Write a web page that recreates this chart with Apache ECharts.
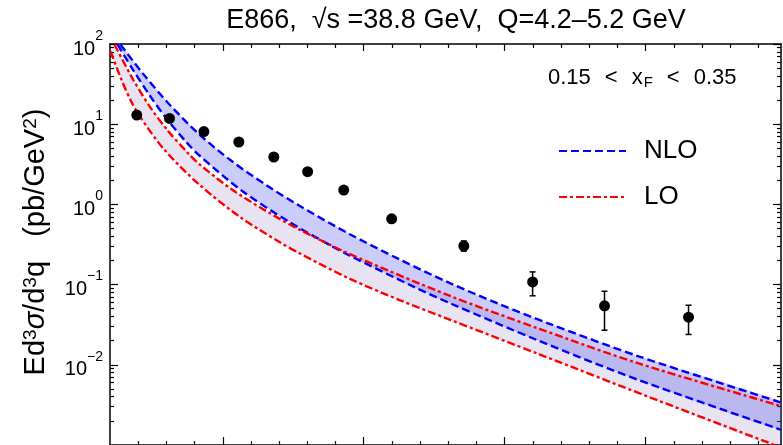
<!DOCTYPE html>
<html>
<head>
<meta charset="utf-8">
<script src="https://cdn.jsdelivr.net/npm/echarts@6/dist/echarts.min.js"></script>
<style>
html, body { margin: 0; padding: 0; background: #fff; }
#main { width: 783px; height: 445px; }
</style>
</head>
<body>
<div id="main"></div>
<script>
// E866 data points (x, cross section) and error bar ends
var ptX = [0.195, 0.311, 0.433, 0.557, 0.681, 0.801, 0.929, 1.099, 1.355, 1.599, 1.854, 2.152];
var ptY = [13.0, 11.8, 8.1, 6.0, 3.9, 2.56, 1.51, 0.66, 0.303, 0.108, 0.0543, 0.0393];
var errLo = [13.0, 11.8, 8.1, 6.0, 3.9, 2.56, 1.51, 0.66, 0.262, 0.0725, 0.0270, 0.0239];
var errHi = [13.0, 11.8, 8.1, 6.0, 3.9, 2.56, 1.51, 0.66, 0.350, 0.144, 0.0826, 0.0553];

// NLO band (blue dashed)
var nloUpX = [0.137, 0.215, 0.311, 0.417, 0.534, 0.655, 0.772, 0.949, 1.127, 1.304, 1.482, 1.659, 1.978, 2.478];
var nloUpY = [98.6, 43.5, 17.6, 7.45, 3.42, 1.73, 0.961, 0.428, 0.206, 0.105, 0.0569, 0.0324, 0.01265, 0.00341];
var nloLoX = [0.127, 0.180, 0.240, 0.300, 0.371, 0.417, 0.570, 0.737, 0.878, 0.949, 1.187, 1.304, 1.623, 1.978, 2.478];
var nloLoY = [98.6, 48.6, 23.1, 11.8, 5.96, 4.07, 1.46, 0.601, 0.313, 0.231, 0.0906, 0.0590, 0.0198, 0.00640, 0.00156];

// LO band (red dash-dot)
var loUpX = [0.116, 0.180, 0.240, 0.300, 0.382, 0.417, 0.534, 0.655, 0.772, 0.949, 1.304, 1.623, 1.978, 2.478];
var loUpY = [98.6, 37.1, 16.8, 8.72, 4.16, 3.17, 1.52, 0.823, 0.485, 0.242, 0.0728, 0.0281, 0.01033, 0.00308];
var loLoX = [0.102, 0.141, 0.176, 0.205, 0.293, 0.417, 0.559, 0.701, 0.772, 0.949, 1.127, 1.304, 1.623, 2.013, 2.485];
var loLoY = [80.7, 35.6, 19.0, 12.6, 4.79, 1.76, 0.704, 0.339, 0.246, 0.1187, 0.0642, 0.0367, 0.0135, 0.00395, 0.000918];

// axis ticks
var xMajor = [0.5, 1.0, 1.5, 2.0];
var xMinor = [0.2, 0.3, 0.4, 0.6, 0.7, 0.8, 0.9, 1.1, 1.2, 1.3, 1.4, 1.6, 1.7, 1.8, 1.9, 2.1, 2.2, 2.3, 2.4];
var yMajor = [0.001, 0.01, 0.1, 1, 10, 100];
var yLabels = [0.01, 0.1, 1, 10, 100];
var yMinor = [];
[0.001, 0.01, 0.1, 1, 10].forEach(function (d) {
    [2, 3, 4, 5, 6, 7, 8, 9].forEach(function (m) { yMinor.push(+(m * d).toPrecision(3)); });
});

var FONT = '"Liberation Sans", Arial, sans-serif';

function pairs(xs, ys) {
    return xs.map(function (x, i) { return [x, ys[i]]; });
}

function band(upX, upY, loX, loY, color) {
    return {
        type: 'custom',
        clip: true,
        silent: true,
        data: [[upX[0], upY[0]]],
        z: 1,
        renderItem: function (params, api) {
            var pts = [];
            for (var i = 0; i < upX.length; i++) pts.push(api.coord([upX[i], upY[i]]));
            for (var j = loX.length - 1; j >= 0; j--) pts.push(api.coord([loX[j], loY[j]]));
            return { type: 'polygon', shape: { points: pts, smooth: 0.15 }, style: { fill: color } };
        }
    };
}

function curve(name, xs, ys, color, dash) {
    return {
        name: name,
        type: 'line',
        data: pairs(xs, ys),
        smooth: 0.3,
        symbol: 'none',
        z: 3,
        lineStyle: { color: color, width: 2.4, type: dash },
        itemStyle: { color: color }
    };
}

function xAx(pos, ticks, len, line) {
    return {
        type: 'value', position: pos, min: 0.1, max: 2.48,
        axisLine: { show: line, onZero: false, lineStyle: { color: '#000', width: 1.5 } },
        axisTick: { show: true, inside: true, length: len, customValues: ticks, lineStyle: { color: '#000', width: 1.2 } },
        axisLabel: { show: false },
        splitLine: { show: false }
    };
}

function yAx(pos, ticks, len, line, labels) {
    return {
        type: 'log', logBase: 10, position: pos, min: 0.001, max: 100,
        axisLine: { show: line, onZero: false, lineStyle: { color: '#000', width: 1.5 } },
        axisTick: { show: true, inside: true, length: len, customValues: ticks, lineStyle: { color: '#000', width: 1.2 } },
        axisLabel: labels ? {
            show: true,
            customValues: yLabels,
            margin: 7,
            formatter: function (v) {
                var e = Math.round(Math.log10(v));
                return '{b|10}{e|' + (e < 0 ? '\u2212' + (-e) : e) + '}';
            },
            rich: {
                b: { fontFamily: FONT, fontSize: 20, color: '#000', lineHeight: 30, verticalAlign: 'bottom', padding: [6, 0, 0, 0] },
                e: { fontFamily: FONT, fontSize: 14, color: '#000', lineHeight: 24, verticalAlign: 'top' }
            }
        } : { show: false },
        splitLine: { show: false }
    };
}

var myChart = echarts.init(document.getElementById('main'));

var option = {
    animation: false,
    backgroundColor: '#fff',
    grid: { left: 110, right: 2, top: 44, bottom: -2, containLabel: false },
    xAxis: [
        xAx('bottom', xMajor, 8, true),
        xAx('bottom', xMinor, 4, false),
        xAx('top', xMajor, 7, true),
        xAx('top', xMinor, 4, false)
    ],
    yAxis: [
        yAx('left', yMajor, 8, true, true),
        yAx('left', yMinor, 4, false, false),
        yAx('right', yMajor, 8, true, false),
        yAx('right', yMinor, 4, false, false)
    ],
    legend: {
        orient: 'vertical',
        left: 558, top: 138,
        padding: 0,
        itemWidth: 67, itemHeight: 14, itemGap: 20,
        selectedMode: false,
        itemStyle: { opacity: 0 },
        textStyle: { fontFamily: FONT, fontSize: 26, color: '#000', padding: [0, 0, 0, 13] },
        data: ['NLO', 'LO']
    },
    graphic: [
        {
            type: 'text',
            x: 456, y: 21,
            style: {
                text: 'E866,  \u221As =38.8 GeV,  Q=4.2\u20135.2 GeV',
                font: '27px ' + FONT, fill: '#000', align: 'center', verticalAlign: 'middle'
            }
        },
        {
            type: 'text',
            x: 548, y: 78,
            style: {
                text: '{n|0.15}{o|<}{n|x}{f|F}{o|<}{n|0.35}',
                verticalAlign: 'middle',
                rich: {
                    n: { fontFamily: FONT, fontSize: 22, lineHeight: 26, fill: '#000' },
                    o: { fontFamily: FONT, fontSize: 22, lineHeight: 26, fill: '#000', padding: [0, 14, 0, 14] },
                    f: { fontFamily: FONT, fontSize: 15, lineHeight: 15, verticalAlign: 'middle', fill: '#000', padding: [9, 0, 0, 1] }
                }
            }
        },
        {
            type: 'text',
            x: 36, y: 242, rotation: Math.PI / 2,
            style: {
                text: 'Ed{s|3}{g|\u03C3}/d{s|3}q   (pb/GeV{s|2})',
                font: '29px ' + FONT, fill: '#000', align: 'center', verticalAlign: 'middle',
                rich: {
                    s: { fontFamily: FONT, fontSize: 19, lineHeight: 20, verticalAlign: 'top', fill: '#000' },
                    g: { fontFamily: FONT, fontSize: 29, fontStyle: 'italic', fill: '#000' }
                }
            }
        }
    ],
    series: [
        band(loUpX, loUpY, loLoX, loLoY, 'rgba(110, 80, 160, 0.16)'),
        band(nloUpX, nloUpY, nloLoX, nloLoY, 'rgba(80, 80, 240, 0.29)'),
        curve('NLO', nloUpX, nloUpY, '#0000ff', [8, 4]),
        curve('NLO', nloLoX, nloLoY, '#0000ff', [8, 4]),
        curve('LO', loUpX, loUpY, '#ff0000', [8, 3, 3, 3]),
        curve('LO', loLoX, loLoY, '#ff0000', [8, 3, 3, 3]),
        {
            type: 'custom',
            z: 4,
            data: ptX.map(function (x, i) { return [x, errLo[i], errHi[i]]; }),
            renderItem: function (params, api) {
                var x = api.value(0), lo = api.value(1), hi = api.value(2);
                if (!(hi > lo)) return;
                var a = api.coord([x, hi]), b = api.coord([x, lo]);
                var st = { stroke: '#000', lineWidth: 1.5 };
                return {
                    type: 'group', children: [
                        { type: 'line', shape: { x1: a[0], y1: a[1], x2: b[0], y2: b[1] }, style: st },
                        { type: 'line', shape: { x1: a[0] - 3, y1: a[1], x2: a[0] + 3, y2: a[1] }, style: st },
                        { type: 'line', shape: { x1: b[0] - 3, y1: b[1], x2: b[0] + 3, y2: b[1] }, style: st }
                    ]
                };
            }
        },
        {
            type: 'scatter',
            z: 5,
            symbol: 'circle',
            symbolSize: 11,
            itemStyle: { color: '#000', opacity: 1 },
            data: pairs(ptX, ptY)
        }
    ]
};

myChart.setOption(option);
</script>
</body>
</html>
